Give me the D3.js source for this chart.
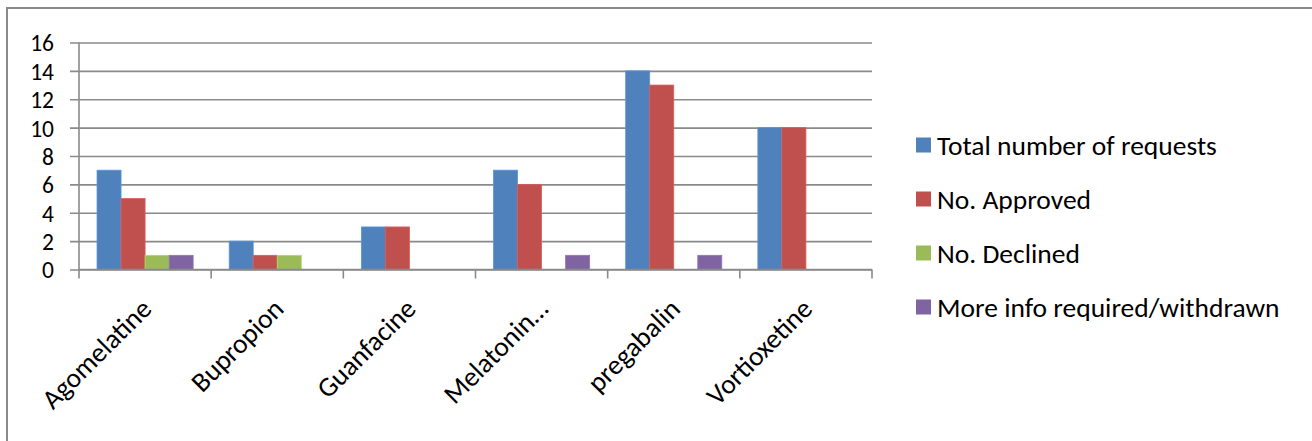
<!DOCTYPE html>
<html>
<head>
<meta charset="utf-8">
<script src="https://cdn.jsdelivr.net/npm/d3@7"></script>
<style>
  html, body { margin: 0; padding: 0; background: #fff; }
  svg { display: block; }
  text { font-family: Carlito, Calibri, Lato, "Open Sans", sans-serif; fill: #000; }
</style>
</head>
<body>
<script>
// Drug requests by outcome
const categories = ["Agomelatine", "Bupropion", "Guanfacine", "Melatonin…", "pregabalin", "Vortioxetine"];
const seriesNames = ["Total number of requests", "No. Approved", "No. Declined", "More info required/withdrawn"];
const totalRequests = [7, 2, 3, 7, 14, 10];
const approved      = [5, 1, 3, 6, 13, 10];
const declined      = [1, 1, 0, 0, 0, 0];
const moreInfo      = [1, 0, 0, 1, 1, 0];
const yTicks = [0, 2, 4, 6, 8, 10, 12, 14, 16];

const seriesValues = [totalRequests, approved, declined, moreInfo];
const colors = ["#4F81BD", "#C0504D", "#9BBB59", "#8064A2"];

const W = 1312, H = 441;
const plot = { left: 79, right: 872, top: 42.5, bottom: 269.5 };
const labelSize = 27.5;
const tickSize = 23.5;

const svg = d3.select("body").append("svg").attr("width", W).attr("height", H);

// outer chart frame (top and left edges)
svg.append("path")
  .attr("d", `M7,${H} V8 H${W}`)
  .attr("fill", "none").attr("stroke", "#8a8a8a").attr("stroke-width", 2);

const x0 = d3.scaleBand().domain(categories).range([plot.left, plot.right]).paddingInner(0).paddingOuter(0);
const x1 = d3.scaleBand().domain(d3.range(seriesNames.length)).range([0, x0.bandwidth()])
  .paddingInner(0).paddingOuter(0.75);
const y = d3.scaleLinear().domain([0, 16]).range([plot.bottom, plot.top]);

// gridlines + y axis ticks
const yAxis = d3.axisLeft(y).tickValues(yTicks).tickSize(plot.right - plot.left + 9).tickPadding(16).tickFormat(d3.format("d"));
const gy = svg.append("g").attr("transform", `translate(${plot.right},0)`).call(yAxis);
gy.select(".domain").remove();
gy.selectAll(".tick line").attr("stroke", "#8a8a8a").attr("stroke-width", 1.6);
gy.selectAll(".tick text").attr("font-size", tickSize).attr("dy", "0.36em");

// y axis line
svg.append("line").attr("x1", plot.left).attr("x2", plot.left).attr("y1", plot.top).attr("y2", plot.bottom)
  .attr("stroke", "#8a8a8a").attr("stroke-width", 1.6);

// bars
const groups = svg.append("g").selectAll("g").data(categories).join("g")
  .attr("transform", d => `translate(${x0(d)},0)`);
groups.selectAll("rect")
  .data((d, i) => seriesValues.map((vals, s) => ({ s, v: vals[i] })))
  .join("rect")
  .attr("x", d => x1(d.s))
  .attr("width", x1.bandwidth())
  .attr("y", d => y(d.v))
  .attr("height", d => y(0) - y(d.v))
  .attr("fill", d => colors[d.s])
  .attr("stroke", d => d3.color(colors[d.s]).brighter(0.4))
  .attr("stroke-width", d => d.v > 0 ? 0.8 : 0);

// x axis with boundary ticks
const xAxisLine = svg.append("g");
xAxisLine.append("line").attr("x1", plot.left).attr("x2", plot.right).attr("y1", plot.bottom).attr("y2", plot.bottom)
  .attr("stroke", "#8a8a8a").attr("stroke-width", 1.6);
const boundaries = categories.map(c => x0(c)).concat([plot.right]);
xAxisLine.selectAll("line.b").data(boundaries).join("line").attr("class", "b")
  .attr("x1", d => d).attr("x2", d => d).attr("y1", plot.bottom).attr("y2", plot.bottom + 9)
  .attr("stroke", "#8a8a8a").attr("stroke-width", 1.6);

// rotated category labels
svg.append("g").selectAll("text").data(categories).join("text")
  .attr("transform", d => `translate(${x0(d) + x0.bandwidth() / 2 + 8},${plot.bottom + 41}) rotate(-45)`)
  .attr("text-anchor", "end")
  .attr("font-size", labelSize)
  .text(d => d);

// legend
const legend = svg.append("g").selectAll("g").data(seriesNames).join("g")
  .attr("transform", (d, i) => `translate(916,${145 + i * 54})`);
legend.append("rect").attr("x", 0).attr("y", -7.5).attr("width", 15).attr("height", 15)
  .attr("fill", (d, i) => colors[i]);
legend.append("text").attr("x", 21).attr("dy", "0.35em").attr("font-size", labelSize).text(d => d);
</script>
</body>
</html>
